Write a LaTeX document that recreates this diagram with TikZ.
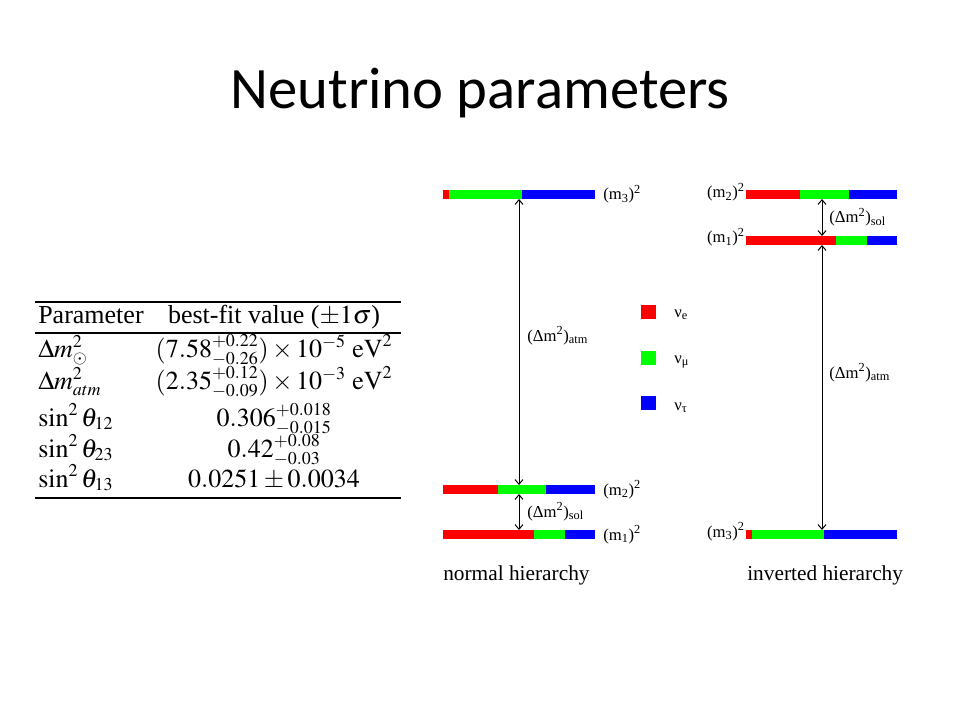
\documentclass[tikz,border=0pt]{standalone}
\usepackage{mathptmx}
\usepackage[no-math]{fontspec}
\setmainfont{Carlito}
\newfontfamily\timesfont{Liberation Serif}
\usepackage{tikz}
\usetikzlibrary{arrows.meta}
\DeclareMathSizes{19.5}{19.5}{13.5}{10}
\definecolor{nured}{RGB}{255,0,0}
\definecolor{nugreen}{RGB}{0,255,0}
\definecolor{nublue}{RGB}{0,0,255}
\tikzset{
    gaparrow/.style={
        line width=0.75pt,
        black,
        <->,
        >={Straight Barb[length=3.5pt, width=6pt]}
    },
    % labels next to the mass levels
    levellabel/.style={
        inner sep=0pt,
        font=\timesfont\fontsize{12.5}{14}\selectfont
    },
    tabcell/.style={
        inner sep=0pt,
        font=\timesfont\fontsize{19.5}{23}\selectfont
    },
    tabrule/.style={line width=1.5pt, black}
}

\begin{document}
\begin{tikzpicture}[x=0.75pt,y=-0.75pt]
\useasboundingbox[fill=white] (0,0) rectangle (960,720);

% ===================== title =====================
\node[anchor=base, inner sep=0pt, font=\fontsize{44}{50}\selectfont] (title) at (480,109) {Neutrino parameters};

% ===================== table =====================
\draw[tabrule] (35,302) -- (401,302);
\draw[tabrule] (35,333) -- (401,333);
\draw[tabrule] (35,498) -- (401,498);

\node[tabcell, anchor=base west] (par) at (38,323) {Parameter};
\node[tabcell, anchor=base] (fit) at (274,323) {best-fit value ($\pm 1\sigma$)};

\node[tabcell, anchor=base west] (dsol) at (38,357) {$\Delta m^2_{\odot}$};
\node[tabcell, anchor=base] (vsol) at (274,357) {$(7.58^{+0.22}_{-0.26})\times 10^{-5}\ \mathrm{eV}^2$};
\node[tabcell, anchor=base west] (datm) at (38,389) {$\Delta m^2_{atm}$};
\node[tabcell, anchor=base] (vatm) at (274,389) {$(2.35^{+0.12}_{-0.09})\times 10^{-3}\ \mathrm{eV}^2$};
\node[tabcell, anchor=base west] (t12) at (38,426) {$\sin^2\theta_{12}$};
\node[tabcell, anchor=base] (v12) at (274,426) {$0.306^{+0.018}_{-0.015}$};
\node[tabcell, anchor=base west] (t23) at (38,457) {$\sin^2\theta_{23}$};
\node[tabcell, anchor=base] (v23) at (274,457) {$0.42^{+0.08}_{-0.03}$};
\node[tabcell, anchor=base west] (t13) at (38,487) {$\sin^2\theta_{13}$};
\node[tabcell, anchor=base] (v13) at (274,487) {$0.0251\pm 0.0034$};

% ===================== normal hierarchy =====================
%m_3
\fill[nured] (443,190) rectangle (449,199);
\fill[nugreen] (449,190) rectangle (522,199);
\fill[nublue] (522,190) rectangle (595,199);
%m_2
\fill[nured] (443,485) rectangle (498,494);
\fill[nugreen] (498,485) rectangle (546,494);
\fill[nublue] (546,485) rectangle (595,494);
%m_1
\fill[nured] (443,530) rectangle (534,539);
\fill[nugreen] (534,530) rectangle (565,539);
\fill[nublue] (565,530) rectangle (595,539);

\coordinate (n3b) at (519,199);
\coordinate (n2t) at (519,485);
\coordinate (n2b) at (519,494);
\coordinate (n1t) at (519,530);
\draw[gaparrow] (n3b) -- (n2t);
\draw[gaparrow] (n2b) -- (n1t);

\node[levellabel, anchor=base west] (nm3) at (603,200) {(m\textsubscript{3})\textsuperscript{2}};
\node[levellabel, anchor=base west] (nm2) at (603,495) {(m\textsubscript{2})\textsuperscript{2}};
\node[levellabel, anchor=base west] (nm1) at (603,540) {(m\textsubscript{1})\textsuperscript{2}};
\node[levellabel, anchor=base west] (natm) at (527,341) {(Δm\textsuperscript{2})\textsubscript{atm}};
\node[levellabel, anchor=base west] (nsol) at (527,517) {(Δm\textsuperscript{2})\textsubscript{sol}};
\node[inner sep=0pt, anchor=base west, font=\timesfont\fontsize{16}{18}\selectfont] (normal) at (443,580) {normal hierarchy};

% ===================== flavour legend =====================
\fill[nured] (641,305) rectangle (656,319);
\fill[nugreen] (641,351) rectangle (656,365);
\fill[nublue] (641,396) rectangle (656,410);
\node[levellabel, anchor=base west] (nue) at (674,317) {ν\textsubscript{e}};
\node[levellabel, anchor=base west] (numu) at (674,363) {ν\textsubscript{μ}};
\node[levellabel, anchor=base west] (nutau) at (674,410) {ν\textsubscript{τ}};

% ===================== inverted hierarchy =====================
%m_2
\fill[nured] (746,190) rectangle (800,199);
\fill[nugreen] (800,190) rectangle (849,199);
\fill[nublue] (849,190) rectangle (897,199);
%m_1
\fill[nured] (746,236) rectangle (836,245);
\fill[nugreen] (836,236) rectangle (867,245);
\fill[nublue] (867,236) rectangle (897,245);
%m_3
\fill[nured] (746,530) rectangle (752,539);
\fill[nugreen] (752,530) rectangle (824,539);
\fill[nublue] (824,530) rectangle (897,539);

\coordinate (i2b) at (822,199);
\coordinate (i1t) at (822,236);
\coordinate (i1b) at (822,245);
\coordinate (i3t) at (822,530);
\draw[gaparrow] (i2b) -- (i1t);
\draw[gaparrow] (i1b) -- (i3t);

\node[levellabel, anchor=base east] (im2) at (745,198) {(m\textsubscript{2})\textsuperscript{2}};
\node[levellabel, anchor=base east] (im1) at (745,243) {(m\textsubscript{1})\textsuperscript{2}};
\node[levellabel, anchor=base east] (im3) at (745,537) {(m\textsubscript{3})\textsuperscript{2}};
\node[levellabel, anchor=base west] (isol) at (829,223) {(Δm\textsuperscript{2})\textsubscript{sol}};
\node[levellabel, anchor=base west] (iatm) at (829,378) {(Δm\textsuperscript{2})\textsubscript{atm}};
\node[inner sep=0pt, anchor=base west, font=\timesfont\fontsize{16}{18}\selectfont] (inverted) at (747,580) {inverted hierarchy};

\end{tikzpicture}
\end{document}
